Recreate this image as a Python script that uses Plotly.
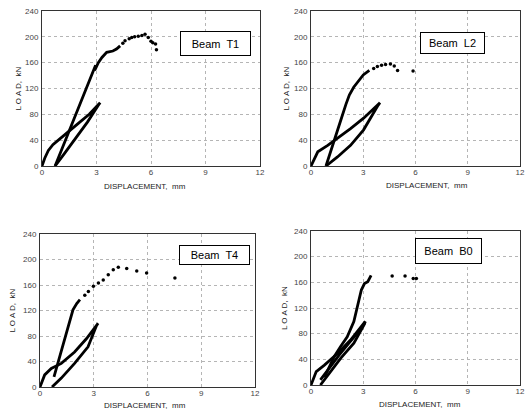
import plotly.graph_objects as go

# ---- Data ----
beams = ["Beam  T1", "Beam  L2", "Beam  T4", "Beam  B0"]
x_title = "DISPLACEMENT,  mm"
y_title = "L O A D,  kN"

# Beam T1
t1_loop_x = [0, 0.15, 0.35, 0.6, 0.9, 1.3, 2.0, 2.6, 3.2, 3.1, 2.5, 1.8, 1.2, 0.72]
t1_loop_y = [0, 12, 24, 33, 40, 50, 66, 80, 98, 94, 68, 40, 18, 0]
t1_rel_x = [0.72, 1.2, 1.7, 2.2, 2.6, 2.95, 2.9, 3.1, 3.3, 3.56, 3.9, 4.1, 4.3]
t1_rel_y = [0, 34, 70, 104, 132, 156, 148, 160, 168, 176, 178, 181, 186]
t1_dot_x = [4.45, 4.57, 4.8, 4.94, 5.1, 5.3, 5.5, 5.67, 5.85, 6.0, 6.1, 6.25, 6.3]
t1_dot_y = [190, 194, 197, 199, 200, 201, 202, 204, 199, 193, 191, 189, 180]

# Beam L2
l2_loop_x = [0, 0.39, 0.96, 1.52, 2.27, 3.02, 3.96, 3.85, 3.02, 2.27, 1.52, 0.86]
l2_loop_y = [0, 22, 32, 43, 58, 74, 98, 94, 56, 32, 14, 0]
l2_rel_x = [0.86, 1.3, 1.7, 2.0, 2.2, 2.45, 2.75, 3.0, 3.35]
l2_rel_y = [0, 35, 70, 95, 110, 122, 133, 141, 148]
l2_dot_x = [3.6, 3.81, 4.05, 4.28, 4.56, 4.78, 4.97, 5.86]
l2_dot_y = [151, 154, 156, 157, 158, 155, 148, 147]

# Beam T4
t4_loop_x = [0, 0.26, 0.63, 1.19, 1.93, 2.6, 3.24, 3.15, 2.68, 1.93, 1.19, 0.67]
t4_loop_y = [0, 19, 29, 37, 55, 76, 100, 96, 63, 37, 14, 0]
t4_rel_x = [0.78, 1.1, 1.5, 1.84, 2.05, 2.23]
t4_rel_y = [16, 47, 87, 121, 131, 137]
t4_dot_x = [2.5, 2.7, 2.98, 3.26, 3.53, 3.81, 4.09, 4.37, 4.84, 5.4, 5.95, 7.53]
t4_dot_y = [144, 150, 158, 163, 168, 176, 184, 188, 186, 182, 179, 171]

# Beam B0
b0_loop_x = [0, 0.3, 0.77, 1.52, 2.27, 3.12, 3.05, 2.46, 1.71, 0.96, 0.54]
b0_loop_y = [0, 21, 31, 49, 70, 99, 94, 65, 42, 16, 0]
b0_loop2_x = [0.54, 1.0, 1.6, 2.2, 2.7, 3.1]
b0_loop2_y = [8, 25, 46, 66, 82, 97]
b0_rel_x = [0.77, 1.33, 1.7, 2.08, 2.46, 2.7, 2.89, 3.07, 3.26, 3.45]
b0_rel_y = [12, 44, 60, 75, 99, 126, 148, 158, 161, 171]
b0_dot_x = [4.66, 5.4, 5.87, 6.05]
b0_dot_y = [170, 170, 166, 166]

x_ticks = [0, 3, 6, 9, 12]
y_ticks = [0, 40, 80, 120, 160, 200, 240]

series = [
    ([(t1_loop_x, t1_loop_y), (t1_rel_x, t1_rel_y)], (t1_dot_x, t1_dot_y)),
    ([(l2_loop_x, l2_loop_y), (l2_rel_x, l2_rel_y)], (l2_dot_x, l2_dot_y)),
    ([(t4_loop_x, t4_loop_y), (t4_rel_x, t4_rel_y)], (t4_dot_x, t4_dot_y)),
    ([(b0_loop_x, b0_loop_y), (b0_loop2_x, b0_loop2_y), (b0_rel_x, b0_rel_y)], (b0_dot_x, b0_dot_y)),
]

W, H = 528, 413
# plot areas in pixels: (left, right, top, bottom)
areas = [(42, 260, 11, 166), (311, 520, 11, 166), (40, 255, 234, 387), (311, 520, 231, 385)]
boxes = [(180, 251, 18, 43), (452, 517, 21, 43), (179, 250, 245, 265), (448, 515, 238, 264)]
# axis-title centres in pixels: (x-title centre x, x-title y, y-title x)
titles = [(145, 186, 18), (427, 185, 286), (145, 405, 12), (420, 404, 284)]

fig = go.Figure()
font = dict(family="Arial, Liberation Sans, sans-serif", color="#222")

for i, (lines, dots) in enumerate(series):
    n = "" if i == 0 else str(i + 1)
    xa, ya = "x" + n, "y" + n
    for (lx, ly) in lines:
        fig.add_trace(go.Scatter(x=lx, y=ly, mode="lines", line=dict(color="black", width=2.8),
                                 xaxis=xa, yaxis=ya, showlegend=False))
    fig.add_trace(go.Scatter(x=dots[0], y=dots[1], mode="markers", marker=dict(color="black", size=3.5),
                             xaxis=xa, yaxis=ya, showlegend=False))
    l, r, t, b = areas[i]
    ax_common = dict(showline=True, mirror=True, linecolor="#333", linewidth=1,
                     showgrid=True, gridcolor="#b5b5b5", griddash="dot", gridwidth=1,
                     zeroline=False, ticks="", ticklen=0, tickfont=dict(size=8, color="#444"),
                     fixedrange=True, automargin=False)
    fig.update_layout(**{
        ("xaxis" + n): dict(domain=[l / W, r / W], range=[0, 12], tickvals=x_ticks,
                            anchor=ya, ticklabelstandoff=-2, **ax_common),
        ("yaxis" + n): dict(domain=[1 - b / H, 1 - t / H], range=[0, 240], tickvals=y_ticks,
                            anchor=xa, ticklabelstandoff=1, **ax_common),
    })
    bl, br, bt, bb = boxes[i]
    fig.add_annotation(x=(bl + br) / 2 / W, y=1 - (bt + bb) / 2 / H, xref="paper", yref="paper",
                       text=beams[i], showarrow=False, font=dict(size=11, color="black"),
                       bordercolor="black", borderwidth=1, bgcolor="white",
                       width=br - bl - 4, height=bb - bt - 4, borderpad=1)
    tx, ty, yx = titles[i]
    fig.add_annotation(x=tx / W, y=1 - ty / H, xref="paper", yref="paper", text=x_title,
                       showarrow=False, font=dict(size=8, color="#222"), xanchor="center", yanchor="middle")
    fig.add_annotation(x=yx / W, y=1 - (t + b) / 2 / H, xref="paper", yref="paper", text=y_title,
                       showarrow=False, font=dict(size=8, color="#222"), textangle=-90,
                       xanchor="center", yanchor="middle")

fig.update_layout(width=W, height=H, margin=dict(l=0, r=0, t=0, b=0, autoexpand=False),
                  paper_bgcolor="white", plot_bgcolor="white", font=font)
fig.write_html("out.html", config={"displayModeBar": False},
               post_script="document.body.style.margin='0';document.body.style.overflow='hidden';")
